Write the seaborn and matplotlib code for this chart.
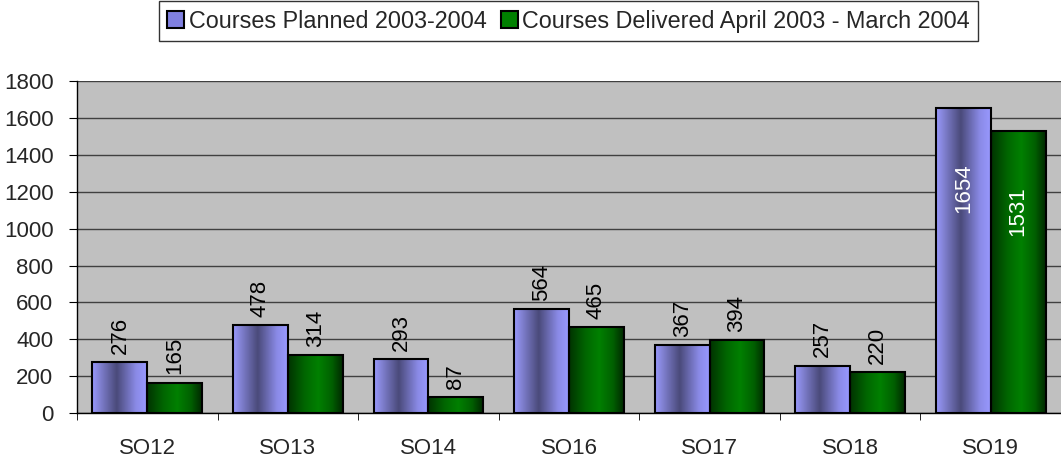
import numpy as np
import pandas as pd
import matplotlib
matplotlib.use("Agg")
import matplotlib.pyplot as plt
import seaborn as sns
from matplotlib.colors import LinearSegmentedColormap
from matplotlib.patches import Patch

categories = ["SO12", "SO13", "SO14", "SO16", "SO17", "SO18", "SO19"]
planned = [276, 478, 293, 564, 367, 257, 1654]
delivered = [165, 314, 87, 465, 394, 220, 1531]
series = ["Courses Planned 2003-2004", "Courses Delivered April 2003 - March 2004"]

df = pd.DataFrame({
    "cat": categories * 2,
    "val": planned + delivered,
    "series": [series[0]] * len(categories) + [series[1]] * len(categories),
})

sns.set_style("white")
plt.rcParams["font.family"] = ["Liberation Sans", "DejaVu Sans"]
FS = 16

fig = plt.figure(figsize=(10.61, 4.74), dpi=100)
ax = fig.add_axes([0.0726, 0.1287, 0.9274, 0.6998])
ax.set_facecolor("#C0C0C0")

sns.barplot(data=df, x="cat", y="val", hue="series", ax=ax,
            palette=["#9999FF", "#008000"], width=0.78, gap=0,
            edgecolor="black", linewidth=1.5, legend=False, zorder=3)

# excel-ish horizontal gradients on the bars
purple = LinearSegmentedColormap.from_list(
    "p", [(0, "#9999FF"), (0.12, "#8585D8"), (0.45, "#4A4A7A"), (0.8, "#8A8AE6"), (1, "#9999FF")])
green = LinearSegmentedColormap.from_list(
    "g", [(0, "#003300"), (0.3, "#006600"), (0.55, "#008000"), (0.8, "#006000"), (1, "#002800")])
grad = np.linspace(0, 1, 256).reshape(1, -1)
n = len(categories)
for i, bar in enumerate(ax.patches[:2 * n]):
    cmap = purple if i < n else green
    x0, y0 = bar.get_x(), bar.get_y()
    w, h = bar.get_width(), bar.get_height()
    im = ax.imshow(grad, cmap=cmap, aspect="auto", extent=[x0, x0 + w, y0, y0 + h],
                   zorder=3.5, interpolation="bilinear")
    im.set_clip_path(bar)
    bar.set_facecolor("none")
    bar.set_zorder(4)

ax.set_xlim(-0.5, n - 0.5)
ax.set_ylim(0, 1800)
ax.set_yticks(range(0, 1801, 200))
ax.yaxis.grid(True, color="#404040", linewidth=1)
ax.set_axisbelow(True)
ax.set_xlabel("")
ax.set_ylabel("")

ax.tick_params(axis="x", which="major", length=0, labelsize=FS, pad=18)
ax.set_xticks(np.arange(-0.5, n, 1), minor=True)
ax.tick_params(axis="x", which="minor", length=5, direction="out", color="black", bottom=True)
ax.tick_params(axis="y", length=6, direction="out", labelsize=FS, left=True, color="black", pad=11)

for s in ["top", "right"]:
    ax.spines[s].set_visible(False)
for s in ["left", "bottom"]:
    ax.spines[s].set_color("black")
    ax.spines[s].set_linewidth(1)

# value labels
for i, bar in enumerate(ax.patches[:2 * n]):
    v = bar.get_height()
    xc = bar.get_x() + bar.get_width() / 2
    if v > 1400:
        ax.annotate(f"{v:.0f}", (xc, v), xytext=(0, -40), textcoords="offset points",
                    rotation=90, ha="center", va="top", color="white", fontsize=FS, zorder=6)
    else:
        ax.annotate(f"{v:.0f}", (xc, v), xytext=(0, 6), textcoords="offset points",
                    rotation=90, ha="center", va="bottom", color="black", fontsize=FS, zorder=6)

handles = [Patch(facecolor="#8080E0", edgecolor="black", linewidth=1.5),
           Patch(facecolor="#008000", edgecolor="black", linewidth=1.5)]
leg = fig.legend(handles, series, loc="center", bbox_to_anchor=(0.5358, 0.955), ncol=2,
                 fontsize=16.8, frameon=True, fancybox=False, edgecolor="black",
                 handlelength=0.72, handleheight=0.72, handletextpad=0.2, columnspacing=0.62,
                 borderpad=0.36)
leg.get_frame().set_linewidth(1)

fig.savefig("out.png", dpi=100)
